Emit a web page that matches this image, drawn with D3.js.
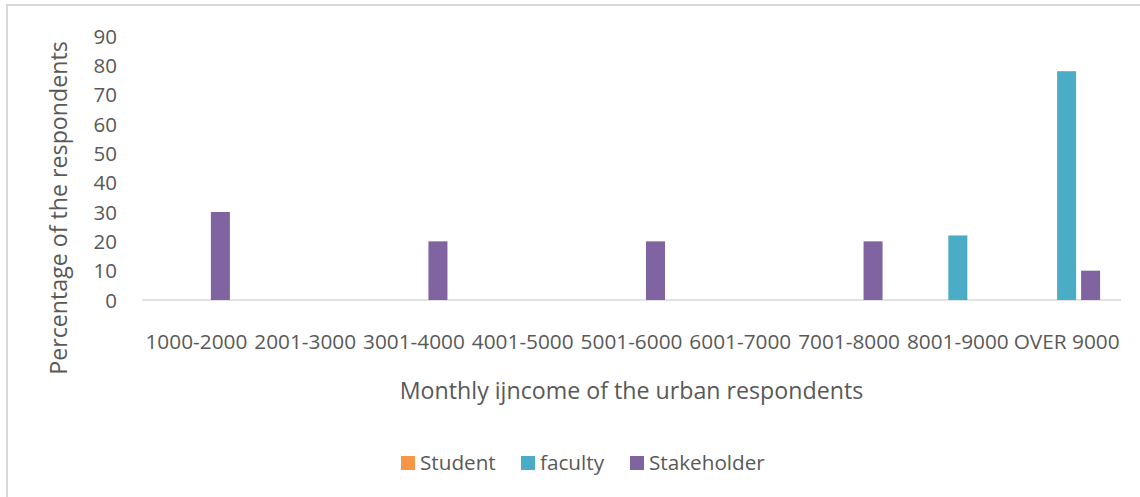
<!DOCTYPE html>
<html><head><meta charset="utf-8">
<script src="https://cdn.jsdelivr.net/npm/d3@7"></script>
<style>
html,body{margin:0;padding:0;background:#fff;}
text{font-family:"Open Sans",sans-serif;fill:#595959;}
</style></head>
<body><svg id="c" width="1140" height="497"></svg>
<script>
const categories = ["1000-2000","2001-3000","3001-4000","4001-5000","5001-6000","6001-7000","7001-8000","8001-9000","OVER 9000"];
const seriesNames = ["Student","faculty","Stakeholder"];
const studentValues = [0,0,0,0,0,0,0,0,0];
const facultyValues = [0,0,0,0,0,0,0,22,78];
const stakeholderValues = [30,0,20,0,20,0,20,0,10];
const yTicks = [0,10,20,30,40,50,60,70,80,90];
const colors = ["#f79646","#4bacc6","#8064a2"];
const xTitle = "Monthly ijncome of the urban respondents";
const yTitle = "Percentage of the respondents";

const seriesValues = [studentValues, facultyValues, stakeholderValues];
const svg = d3.select("#c");

svg.append("rect").attr("x",7).attr("y",5).attr("width",1145).attr("height",500)
  .attr("fill","none").attr("stroke","#d9d9d9").attr("stroke-width",2);

const x0 = d3.scaleBand().domain(categories).range([142,1121]).padding(0);
const x1 = d3.scaleBand().domain(seriesNames).range([-33.5,33.5]).paddingInner(0.208).paddingOuter(0);
const y = d3.scaleLinear().domain([0,90]).range([300,36]);

svg.append("line").attr("x1",x0.range()[0]).attr("x2",x0.range()[1])
  .attr("y1",y(0)).attr("y2",y(0)).attr("stroke","#d9d9d9").attr("stroke-width",1.5);

const yAxis = d3.axisLeft(y).tickValues(yTicks).tickSize(0).tickPadding(0);
const yg = svg.append("g").attr("transform","translate(117,0)").call(yAxis);
yg.select(".domain").remove();
yg.selectAll("text").style("font-size","20.5px").style("font-family","'Open Sans',sans-serif").attr("fill","#595959").attr("dy","0.35em");

const xAxis = d3.axisBottom(x0).tickSize(0).tickPadding(0);
const xg = svg.append("g").attr("transform","translate(0,334)").call(xAxis);
xg.select(".domain").remove();
xg.selectAll("text").style("font-size","20.8px").style("font-family","'Open Sans',sans-serif").attr("fill","#595959").attr("dy","0").attr("y",14.5);

seriesNames.forEach((s,si)=>{
  svg.append("g").selectAll("rect").data(categories.map((c,i)=>({c,v:seriesValues[si][i]})))
    .join("rect")
    .attr("x",d=>x0(d.c)+x0.bandwidth()/2+x1(s))
    .attr("width",x1.bandwidth())
    .attr("y",d=>y(d.v))
    .attr("height",d=>y(0)-y(d.v))
    .attr("fill",colors[si]);
});

svg.append("text").attr("x",(x0.range()[0]+x0.range()[1])/2).attr("y",399)
  .attr("text-anchor","middle").style("font-size","23.2px").text(xTitle);
svg.append("text").attr("transform","translate(67,208) rotate(-90)")
  .attr("text-anchor","middle").style("font-size","23.2px").text(yTitle);

const legX = [401,521,630];
seriesNames.forEach((s,i)=>{
  svg.append("rect").attr("x",legX[i]).attr("y",456).attr("width",14).attr("height",14).attr("fill",colors[i]);
  svg.append("text").attr("x",legX[i]+19).attr("y",469.5).style("font-size","20.7px").text(s);
});
</script></body></html>
